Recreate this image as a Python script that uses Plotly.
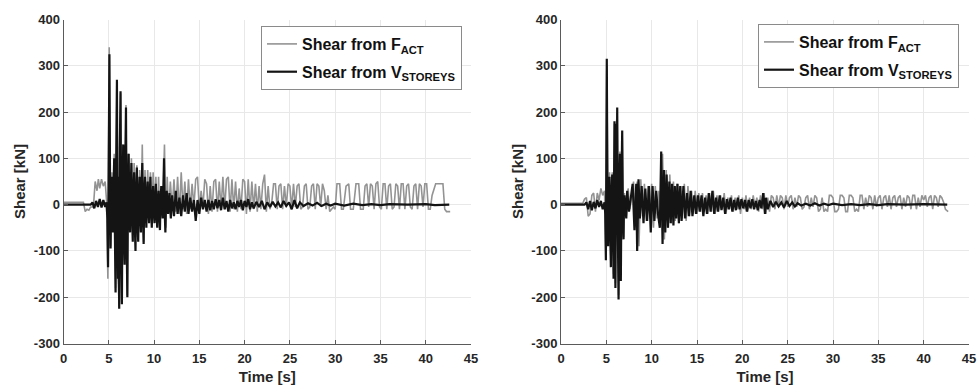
import plotly.graph_objects as go

# ---------------- DATA ----------------
# Left panel: Shear from F_ACT (grey)
left_fact_t = [0, 2.2, 2.4, 2.6, 2.8, 3.0, 3.3, 3.5, 3.7, 3.85, 4.0, 4.2, 4.4, 4.6, 4.75, 4.9, 5.05, 5.2, 5.35, 5.5, 5.6, 5.75, 5.9, 6.0, 6.15, 6.3, 6.45, 6.55, 6.75, 6.9, 7.05, 7.15, 7.35, 7.5, 7.65, 7.8, 7.95, 8.1, 8.25, 8.4, 8.55, 8.7, 8.85, 9.0, 9.15, 9.3, 9.45, 9.6, 9.75, 9.9, 10.05, 10.2, 10.35, 10.5, 10.65, 10.8, 10.95, 11.15, 11.3, 11.45, 11.6, 11.8, 12.0, 12.2, 12.4, 12.6, 12.8, 13.0, 13.2, 13.4, 13.6, 13.8, 14.0, 14.2, 14.4, 14.6, 14.8, 15.0, 15.2, 15.4, 15.6, 15.8, 16.0, 16.2, 16.4, 16.6, 16.8, 17.0, 17.2, 17.4, 17.6, 17.8, 18.0, 18.2, 18.4, 18.6, 18.8, 19.0, 19.2, 19.4, 19.6, 19.8, 20.0, 20.2, 20.4, 20.6, 20.8, 21.0, 21.2, 21.4, 21.6, 21.8, 22.0, 22.2, 22.4, 22.6, 22.8, 23.0, 23.2, 23.4, 23.6, 23.8, 24.0, 24.2, 24.4, 24.6, 24.8, 25.0, 25.2, 25.4, 25.6, 25.8, 26.0, 26.2, 26.4, 26.6, 26.8, 27.0, 27.2, 27.4, 27.6, 27.8, 28.0, 28.2, 28.4, 28.6, 28.8, 29.0, 29.2, 29.4, 29.6, 29.8, 30.0, 30.2, 30.5, 30.7, 30.9, 31.2, 31.5, 31.7, 32.0, 32.3, 32.6, 32.8, 33.1, 33.3, 33.5, 33.7, 33.9, 34.1, 34.3, 34.5, 34.7, 34.9, 35.1, 35.3, 35.5, 35.7, 35.9, 36.1, 36.3, 36.5, 36.7, 36.9, 37.1, 37.3, 37.5, 37.7, 37.9, 38.1, 38.3, 38.5, 38.7, 38.9, 39.1, 39.3, 39.5, 39.7, 39.9, 40.1, 40.3, 40.5, 40.7, 40.9, 41.1, 41.4, 41.7, 41.9, 42.1, 42.3, 42.7]
left_fact = [5, 5, -15, -10, -12, -5, -5, 50, 30, 55, 35, 55, 40, 50, 10, -160, 340, -90, 70, -50, 110, -180, 265, -150, -220, 240, -210, 130, -120, 215, -195, 110, -50, 100, -60, 90, -70, 85, -60, 75, -40, 130, -80, 75, -30, 75, -20, 70, -30, 70, -20, 60, -40, 60, -45, 40, -20, 130, -50, 60, -20, 50, -10, 55, -15, 60, -20, 70, -10, 50, -20, 55, -10, 45, -5, 55, 60, -10, 30, -5, 55, 45, -20, 40, -15, 50, 55, -15, 50, -10, 60, -10, 55, 60, -15, 55, -10, 50, -15, 35, -10, 55, 50, -20, 55, -15, 50, -10, 45, -15, 40, -10, 45, 65, -15, 40, -10, 5, 45, 45, -10, 40, 45, -10, 40, -5, 45, 40, -10, 45, -5, 40, 45, -10, -5, 40, 45, -10, -5, 40, 45, -10, 45, 40, -5, 45, 30, -10, 20, -15, -10, -5, -10, 45, 45, -10, -10, 40, 45, -10, -10, 45, 45, -10, -10, 40, 45, -5, 45, 40, -10, 45, 50, -5, -10, 45, 45, -10, 40, 45, -10, -5, 45, 40, -10, 45, 45, -10, 40, 45, -5, -10, 40, 45, -10, 45, 40, -5, 45, 45, -10, -10, 20, 35, 45, 45, 45, 45, -10, -15, -15]

# Left panel: Shear from V_STOREYS (black)
left_vst_t = [0, 3.0, 3.2, 3.4, 3.6, 3.8, 4.0, 4.2, 4.4, 4.6, 4.75,
              4.85, 4.92, 5.0, 5.07, 5.14, 5.2, 5.27, 5.33, 5.4, 5.47,
              5.53, 5.6, 5.67, 5.75, 5.82, 5.9, 5.96, 6.02, 6.08, 6.15,
              6.22, 6.3, 6.37, 6.45, 6.52, 6.6, 6.67, 6.75, 6.82, 6.9,
              6.97, 7.05, 7.12, 7.2, 7.27, 7.35, 7.42, 7.5, 7.57, 7.65,
              7.72, 7.8, 7.87, 7.95, 8.02, 8.1, 8.17, 8.25, 8.32, 8.4,
              8.47, 8.55, 8.62, 8.7, 8.77, 8.85, 8.92, 9.0, 9.07, 9.15,
              9.22, 9.3, 9.37, 9.45, 9.52, 9.6, 9.67, 9.75, 9.82, 9.9,
              9.97, 10.05, 10.12, 10.2, 10.27, 10.35, 10.42, 10.5, 10.57, 10.65,
              10.72, 10.8, 10.87, 10.95, 11.02, 11.1, 11.17, 11.25, 11.32, 11.4,
              11.55, 11.7, 11.85, 12.0, 12.2, 12.4, 12.6, 12.8, 13.0, 13.2,
              13.4, 13.6, 13.8, 14.0, 14.2, 14.4, 14.6, 14.8, 15.0, 15.2,
              15.4, 15.6, 15.8, 16.0, 16.2, 16.4, 16.6, 16.8, 17.0, 17.2,
              17.4, 17.6, 17.8, 18.0, 18.2, 18.4, 18.6, 18.8, 19.0, 19.2,
              19.4, 19.6, 19.8, 20.0, 20.2, 20.4, 20.6, 20.8, 21.0, 21.3,
              21.6, 21.9, 22.2, 22.5, 22.8, 23.1, 23.4, 23.7, 24.0, 24.3,
              24.6, 24.9, 25.2, 25.5, 25.8, 26.1, 26.5, 27.0, 27.5, 28.0,
              28.5, 29.0, 29.5, 30.0, 31.0, 32.0, 33.0, 34.0, 35.0, 36.0,
              38.0, 40.0, 41.0, 42.6]
left_vst = [0, 0, 5, -8, 8, -5, 12, -6, 10, -5, 5,
            -30, -135, 80, 325, 40, -95, 20, 60, -20, -60,
            40, 100, -50, -190, 90, 270, -40, -160, 60, -225,
            120, 245, -80, -215, 50, 130, -60, -130, 80, 210,
            -70, -200, 40, 110, -30, -60, 40, 90, -20, -80,
            30, 70, -40, -100, 20, 80, -30, -80, 20, 60,
            -20, -60, 40, 90, -20, -85, 20, 60, -10, -50,
            20, 50, -10, -40, 20, 60, -10, -50, 10, 40,
            -10, -40, 10, 45, -20, -50, 10, 30, -20, -55,
            10, 40, 0, -30, 20, 100, -10, -60, 10, 30,
            -20, 25, -30, 20, -25, 30, -20, 15, -25, 20,
            -15, 25, -20, 15, -15, 10, -35, 10, -20, 15,
            -10, 10, -15, 10, -12, 8, -10, 12, -8, 10,
            -12, 15, -10, 8, -15, 10, -8, 5, -10, 8,
            -5, 10, -12, 8, -5, 12, -10, 5, -8, 6,
            -5, 8, -10, 5, -5, 6, -4, 5, -6, 8,
            -3, 5, -10, 10, -8, 5, -3, 3, -2, 4,
            -3, 2, -2, 2, -2, 2, -1, 1, -1, 1,
            0, 1, -1, 0]

# Right panel: Shear from F_ACT (grey)
right_fact_t = [0, 2.4, 2.6, 2.8, 3.0, 3.2, 3.4, 3.6, 3.8, 4.0, 4.2, 4.4, 4.6, 4.8,
                4.95, 5.05, 5.2, 5.35, 5.5, 5.65, 5.8, 5.9, 6.0, 6.1, 6.2, 6.35, 6.5, 6.6, 6.75, 6.9, 7.0,
                7.2, 7.4, 7.6, 7.8, 8.0, 8.2, 8.4, 8.6, 8.8, 9.0,
                9.2, 9.4, 9.6, 9.8, 10.0, 10.2, 10.4, 10.6, 10.8, 11.0,
                11.2, 11.4, 11.6, 11.8, 12.0, 12.2, 12.4, 12.6, 12.8, 13.0,
                13.2, 13.4, 13.6, 13.8, 14.0, 14.2, 14.4, 14.6, 14.8, 15.0,
                15.2, 15.4, 15.6, 15.8, 16.0, 16.2, 16.4, 16.6, 16.8, 17.0,
                17.2, 17.4, 17.6, 17.8, 18.0, 18.2, 18.4, 18.6, 18.8, 19.0,
                19.2, 19.4, 19.6, 19.8, 20.0, 20.2, 20.4, 20.6, 20.8, 21.0,
                21.2, 21.4, 21.6, 21.8, 22.0, 22.2, 22.4, 22.6, 22.8, 23.0,
                23.2, 23.4, 23.6, 23.8, 24.0, 24.2, 24.4, 24.6, 24.8, 25.0,
                25.2, 25.4, 25.6, 25.8, 26.0, 26.2, 26.4, 26.6, 26.8, 27.0,
                27.2, 27.4, 27.6, 27.8, 28.0, 28.2, 28.4, 28.6, 28.8, 29.0,
                29.2, 29.4, 29.6, 29.8, 30.0, 30.2, 30.4, 30.6, 30.8, 31.0,
                31.2, 31.4, 31.6, 31.8, 32.0, 32.2, 32.4, 32.6, 32.8, 33.0,
                33.2, 33.4, 33.6, 33.8, 34.0, 34.2, 34.4, 34.6, 34.8, 35.0,
                35.2, 35.4, 35.6, 35.8, 36.0, 36.2, 36.4, 36.6, 36.8, 37.0,
                37.2, 37.4, 37.6, 37.8, 38.0, 38.2, 38.4, 38.6, 38.8, 39.0,
                39.2, 39.4, 39.6, 39.8, 40.0, 40.2, 40.4, 40.6, 40.8, 41.0,
                41.2, 41.4, 41.6, 41.8, 42.0, 42.2, 42.4, 42.7]
right_fact = [3, 3, 12, 15, -25, -20, 20, 25, -15, 25, 10, 35, 20, 30,
              -110, 300, -80, 70, -125, 70, -150, 175, -170, 170, 200, -195, 115, -155, 150, -70, 25,
              -25, 35, -10, 20, 50, -45, 50, -90, 55, -25,
              45, -35, 40, -30, 45, -50, 40, -30, 30, -15,
              110, -75, 75, -50, 65, -40, 50, -35, 45, -40,
              40, -30, 45, -35, 40, -25, 30, -20, 30, -20,
              25, -15, 25, -15, 20, -20, 25, -15, 30, -20,
              20, -15, 20, -10, 25, -20, 15, -10, 20, -15,
              15, -10, 20, -20, 15, -10, 20, -15, 15, -10,
              20, -5, 15, -15, 20, -10, 25, -20, 15, -15,
              20, 15, -10, 20, -5, 20, 15, -10, 20, -5,
              15, 20, -10, 15, -5, 20, 15, -10, -5, 15,
              20, -10, 15, -5, 20, 15, -15, -10, 15, -15,
              -10, -15, 20, 20, 15, -15, -15, -10, 20, 20,
              15, -15, -15, 20, 20, 15, -15, -10, -15, 20,
              20, -10, 15, -5, 20, 15, -10, 20, -5, 15,
              20, -10, 15, 20, -5, 20, -10, 15, 20, -5,
              15, 20, -10, 15, -5, 20, 15, -10, 20, 20,
              -10, 15, -5, 20, 10, 20, -5, 15, 20, -10,
              20, 15, -5, 20, 15, 5, -10, -15]

# Right panel: Shear from V_STOREYS (black)
right_vst_t = [0, 2.6, 2.8, 3.0, 3.2, 3.4, 3.6, 3.8, 4.0, 4.2, 4.4, 4.6, 4.8,
               4.88, 4.95, 5.0, 5.05, 5.12, 5.2, 5.27, 5.35, 5.42, 5.5,
               5.57, 5.65, 5.72, 5.8, 5.85, 5.9, 5.95, 6.0, 6.05, 6.1,
               6.15, 6.2, 6.27, 6.35, 6.42, 6.5, 6.55, 6.6, 6.67, 6.75,
               6.82, 6.9, 6.95, 7.0,
               7.2, 7.3, 7.5, 7.7, 7.9, 8.1, 8.3, 8.4, 8.55, 8.7,
               8.9, 9.1, 9.3, 9.5, 9.7, 9.9, 10.1, 10.3, 10.5, 10.7,
               10.9, 11.05, 11.2, 11.35, 11.5, 11.65, 11.8, 11.95, 12.1, 12.25,
               12.4, 12.55, 12.7, 12.85, 13.0, 13.15, 13.3, 13.5, 13.7, 13.9,
               14.1, 14.3, 14.5, 14.7, 14.9, 15.1, 15.3, 15.5, 15.7, 15.9,
               16.1, 16.3, 16.5, 16.7, 16.9, 17.1, 17.3, 17.5, 17.7, 17.9,
               18.1, 18.3, 18.5, 18.7, 18.9, 19.1, 19.3, 19.5, 19.7, 19.9,
               20.1, 20.3, 20.5, 20.7, 20.9, 21.1, 21.3, 21.5, 21.7, 21.9,
               22.1, 22.3, 22.5, 22.6, 22.8, 23.1, 23.4, 23.7, 24.0, 24.3,
               24.6, 24.9, 25.2, 25.5, 25.8, 26.1, 26.5, 27.0, 27.5, 28.0,
               28.5, 29.0, 29.5, 30.0, 31.0, 32.0, 33.0, 34.0, 35.0, 36.0,
               38.0, 40.0, 41.0, 42.6]
right_vst = [0, 0, 5, -10, 8, -12, 6, -8, 10, -5, 8, -10, 5,
             -20, -120, 60, 315, 30, -90, 20, 60, -40, -135,
             20, 65, -40, -160, 40, 180, 30, -180, 20, 175,
             -50, 210, -60, -205, 40, 110, -40, -165, 40, 160,
             -20, -75, 10, 20,
             -30, 30, -15, 10, 45, -55, 45, -100, 55, -30,
             40, -40, 35, -35, 40, -60, 40, -35, 30, -20,
             -50, 115, -85, 75, -60, 65, -50, 50, -40, 45,
             -45, 40, -30, 45, -40, 40, -35, 40, -30, 25,
             -25, 30, -25, 20, -20, 20, -15, 20, -25, 15,
             -20, 25, -15, 30, -20, 15, -15, 20, -12, 15,
             -20, 12, -10, 15, -15, 10, -12, 15, -10, 12,
             -8, 10, -15, 10, -8, 12, -10, 8, -12, 10,
             -8, 25, -20, 15, -10, 8, -5, 6, -4, 5,
             -6, 8, -3, 5, -4, 3, -2, 2, -2, 3,
             -2, 2, -1, 2, -1, 1, -1, 1, -1, 1,
             0, 1, 0, 0]

x_ticks = [0, 5, 10, 15, 20, 25, 30, 35, 40, 45]
y_ticks = [-300, -200, -100, 0, 100, 200, 300, 400]
name_fact = "Shear from F<sub>ACT</sub>"
name_vst = "Shear from V<sub>STOREYS</sub>"

# ---------------- FIGURE ----------------
GREY = "#939393"
BLACK = "#141414"
FONT = "Liberation Sans"
TXT = "#262626"

def pair(a, b):
    n = min(len(a), len(b))
    return a[:n], b[:n]

fig = go.Figure()
panels = [("x", "y", "legend", left_fact_t, left_fact, left_vst_t, left_vst),
          ("x2", "y2", "legend2", right_fact_t, right_fact, right_vst_t, right_vst)]
for xa, ya, lg, ft, fv, vt, vv in panels:
    ft, fv = pair(ft, fv)
    vt, vv = pair(vt, vv)
    fig.add_trace(go.Scatter(x=ft, y=fv, mode="lines", name="<b>" + name_fact + "</b>",
                             line=dict(color=GREY, width=1.6), xaxis=xa, yaxis=ya,
                             legend=lg, legendgroup=lg + "a"))
    fig.add_trace(go.Scatter(x=vt, y=vv, mode="lines", name="<b>" + name_vst + "</b>",
                             line=dict(color=BLACK, width=2.2), xaxis=xa, yaxis=ya,
                             legend=lg, legendgroup=lg + "b"))

def xaxis(domain, anchor):
    return dict(domain=domain, anchor=anchor, range=[0, 45], tickvals=x_ticks,
                ticktext=["<b>%d</b>" % v for v in x_ticks],
                showgrid=True, gridcolor="#e8e8e8", gridwidth=1, zeroline=False,
                showline=True, linecolor="#5a5a5a", linewidth=1, mirror=False,
                ticks="inside", ticklen=4, tickcolor="#5a5a5a", ticklabelstandoff=3,
                tickfont=dict(family=FONT, size=13, color=TXT),
                title=dict(text="<b>Time [s]</b>", font=dict(family=FONT, size=15, color=TXT), standoff=6),
                automargin=False, fixedrange=True)

def yaxis(domain, anchor):
    return dict(domain=domain, anchor=anchor, range=[-300, 400], tickvals=y_ticks,
                ticktext=["<b>%d</b>" % v for v in y_ticks],
                showgrid=True, gridcolor="#e8e8e8", gridwidth=1, zeroline=False,
                showline=True, linecolor="#5a5a5a", linewidth=1, mirror=False,
                ticks="inside", ticklen=4, tickcolor="#5a5a5a",
                tickfont=dict(family=FONT, size=13, color=TXT),
                title=dict(text="<b>Shear [kN]</b>", font=dict(family=FONT, size=15, color=TXT), standoff=4),
                automargin=False, fixedrange=True)

ydom = [1 - 343.5 / 385, 1 - 19.5 / 385]

legend_common = dict(xanchor="left", yanchor="top", bgcolor="white",
                     bordercolor="#8a8a8a", borderwidth=1,
                     font=dict(family=FONT, size=16, color="#111"),
                     itemwidth=30, tracegroupgap=4)

fig.update_layout(
    width=978, height=385,
    margin=dict(l=0, r=0, t=0, b=0),
    paper_bgcolor="white", plot_bgcolor="white",
    xaxis=xaxis([63.5 / 978, 471 / 978], "y"),
    yaxis=yaxis(ydom, "x"),
    xaxis2=xaxis([561 / 978, 969 / 978], "y2"),
    yaxis2=yaxis(ydom, "x2"),
    legend=dict(x=261 / 978, y=1 - 26 / 385, **legend_common),
    legend2=dict(x=758 / 978, y=1 - 24 / 385, **legend_common),
    showlegend=True,
)

fig.write_html("out.html")
